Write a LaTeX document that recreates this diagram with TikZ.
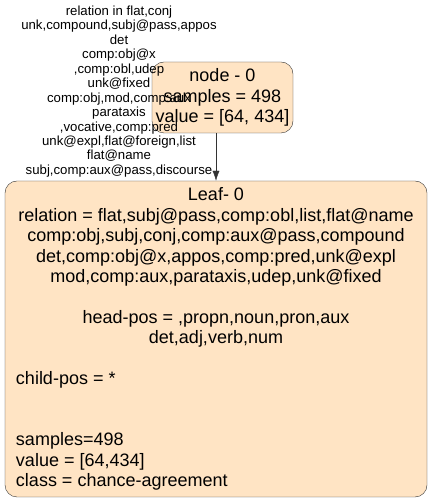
\documentclass[tikz,border=0pt]{standalone}
\usepackage{fontspec}
\setmainfont{Liberation Sans}
\usepackage{tikz}
\usetikzlibrary{arrows.meta}

\definecolor{bisque}{HTML}{FFE4C4}

\tikzset{
    treebox/.style={draw=black!80, fill=bisque, rounded corners=12pt, align=center,
        font=\fontsize{18}{20.4}\selectfont, inner sep=0pt},
    edgelabel/.style={align=center, font=\fontsize{13.2}{14.45}\selectfont, inner sep=0pt}
}

\begin{document}
\begin{tikzpicture}[x=1pt, y=1pt]
    \useasboundingbox (0,0) rectangle (432,503);
    \node[treebox, minimum width=141pt, minimum height=71pt] (node0) at (222.5,405.5)
    {node - 0\\samples = 498\\value = [64, 434]};
    \node[treebox, minimum width=422pt, minimum height=316pt] (leaf0) at (216,164)
    {Leaf- 0\\
    relation = flat,subj@pass,comp:obl,list,flat@name\\
    comp:obj,subj,conj,comp:aux@pass,compound\\
    det,comp:obj@x,appos,comp:pred,unk@expl\\
    mod,comp:aux,parataxis,udep,unk@fixed\\
    \mbox{}\\
    head-pos = ,propn,noun,pron,aux\\
    det,adj,verb,num\\
    \mbox{}\\
    \makebox[400pt][l]{child-pos = *}\\
    \mbox{}\\
    \mbox{}\\
    \makebox[400pt][l]{samples=498}\\
    \makebox[400pt][l]{value = [64,434]}\\
    \makebox[400pt][l]{class = chance-agreement}};
    \node[edgelabel] (split0) at (119,411.5)
    {relation in flat,conj\\
    unk,compound,subj@pass,appos\\
    det\\
    comp:obj@x\\
    ,comp:obl,udep\\
    unk@fixed\\
    comp:obj,mod,comp:aux\\
    parataxis\\
    ,vocative,comp:pred\\
    unk@expl,flat@foreign,list\\
    flat@name\\
    subj,comp:aux@pass,discourse};
    \draw[-{Latex[length=10pt, width=7pt]}, black!80] (leaf0.north |- node0.south) -- (leaf0.north);
\end{tikzpicture}
\end{document}
